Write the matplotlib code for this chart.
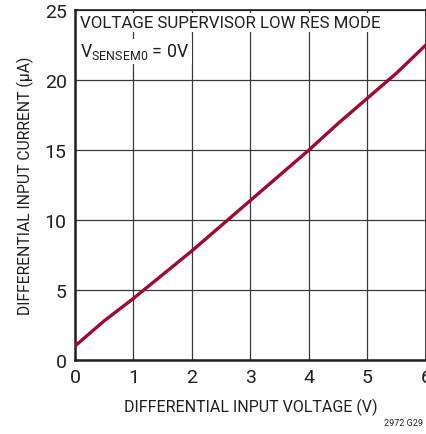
import numpy as np
import matplotlib.pyplot as plt

plt.rcParams['font.family'] = ['Roboto', 'DejaVu Sans']
plt.rcParams['mathtext.fontset'] = 'custom'
plt.rcParams['mathtext.rm'] = 'Roboto'

# valores
voltage = [0, 0.5, 1, 1.5, 2, 2.5, 3, 3.5, 4, 4.5, 5, 5.5, 6]
current = [1.0, 2.8, 4.4, 6.1, 7.8, 9.6, 11.4, 13.2, 15.0, 16.9, 18.7, 20.5, 22.5]
x_ticks = [0, 1, 2, 3, 4, 5, 6]
y_ticks = [0, 5, 10, 15, 20, 25]

fig = plt.figure(figsize=(4.27, 4.35), dpi=100)
ax = fig.add_axes([0.1756, 0.170, 0.822, 0.805])

ax.plot(voltage, current, color='#9B0A30', linewidth=2.4, zorder=3)

ax.set_xlim(0, 6)
ax.set_ylim(0, 25)
ax.set_xticks(x_ticks)
ax.set_yticks(y_ticks)
ax.tick_params(length=0, labelsize=14, pad=6, colors='#231F20')
ax.grid(True, color='#3a3a3a', linewidth=0.9)
ax.set_axisbelow(True)

for s in ['left', 'bottom']:
    ax.spines[s].set_linewidth(1.8)
for s in ['top', 'right']:
    ax.spines[s].set_linewidth(1.2)
for s in ax.spines.values():
    s.set_color('#231F20')

ax.set_xlabel('DIFFERENTIAL INPUT VOLTAGE (V)', fontsize=11.5, color='#231F20', labelpad=8)
ax.set_ylabel('DIFFERENTIAL INPUT CURRENT (µA)', fontsize=11.3, color='#231F20', labelpad=8)

ax.text(0.015, 0.985, 'VOLTAGE SUPERVISOR LOW RES MODE', transform=ax.transAxes,
        fontsize=12.2, ha='left', va='top', color='#231F20',
        bbox=dict(facecolor='white', edgecolor='none', pad=1.5), zorder=4)
ax.text(0.015, 0.91, r'V$_{\mathrm{SENSEM0}}$ = 0V', transform=ax.transAxes,
        fontsize=12.8, ha='left', va='top', color='#231F20',
        bbox=dict(facecolor='white', edgecolor='none', pad=1.5), zorder=4)

fig.text(0.99, 0.015, '2972 G29', fontsize=6.5, ha='right', va='bottom', color='#231F20')

fig.savefig('out.png', dpi=100)
